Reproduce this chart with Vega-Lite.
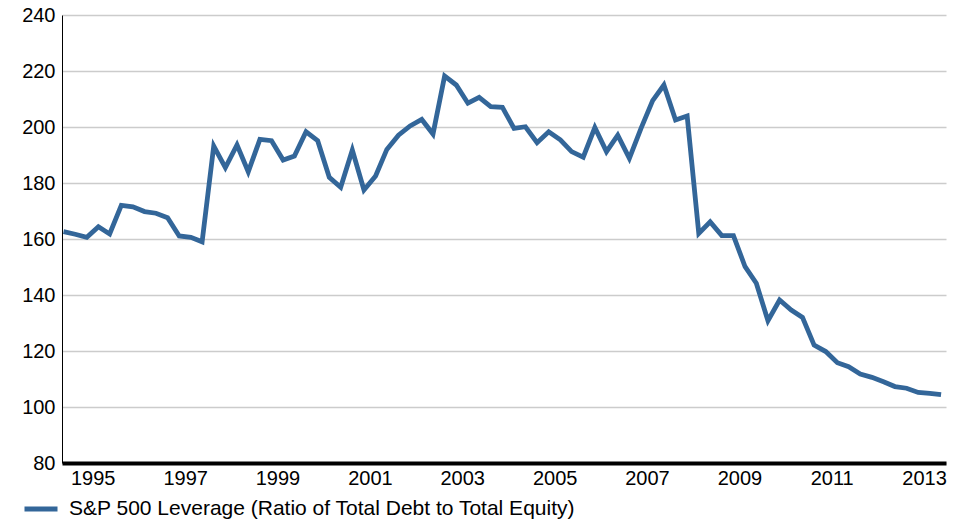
{
  "$schema": "https://vega.github.io/schema/vega-lite/v6.json",
  "width": 884,
  "height": 448,
  "autosize": {"type": "none"},
  "padding": {"left": 62, "top": 15, "right": 22, "bottom": 61},
  "background": "white",
  "config": {"font": "Liberation Sans", "view": {"stroke": null}},
  "data": {"values": [
    {"date": "1994-05-15", "value": 162.6},
    {"date": "1994-08-15", "value": 161.7},
    {"date": "1994-11-15", "value": 160.6},
    {"date": "1995-02-15", "value": 164.4},
    {"date": "1995-05-15", "value": 161.8},
    {"date": "1995-08-15", "value": 172.0},
    {"date": "1995-11-15", "value": 171.5},
    {"date": "1996-02-15", "value": 169.8},
    {"date": "1996-05-15", "value": 169.2},
    {"date": "1996-08-15", "value": 167.6},
    {"date": "1996-11-15", "value": 161.1},
    {"date": "1997-02-15", "value": 160.6},
    {"date": "1997-05-15", "value": 159.0},
    {"date": "1997-08-15", "value": 193.2},
    {"date": "1997-11-15", "value": 185.5},
    {"date": "1998-02-15", "value": 193.6},
    {"date": "1998-05-15", "value": 184.0},
    {"date": "1998-08-15", "value": 195.6},
    {"date": "1998-11-15", "value": 195.1},
    {"date": "1999-02-15", "value": 188.2},
    {"date": "1999-05-15", "value": 189.6},
    {"date": "1999-08-15", "value": 198.3},
    {"date": "1999-11-15", "value": 195.1},
    {"date": "2000-02-15", "value": 182.0},
    {"date": "2000-05-15", "value": 178.5},
    {"date": "2000-08-15", "value": 191.8},
    {"date": "2000-11-15", "value": 177.5},
    {"date": "2001-02-15", "value": 182.5},
    {"date": "2001-05-15", "value": 192.0},
    {"date": "2001-08-15", "value": 197.1},
    {"date": "2001-11-15", "value": 200.4},
    {"date": "2002-02-15", "value": 202.7},
    {"date": "2002-05-15", "value": 197.5},
    {"date": "2002-08-15", "value": 218.2},
    {"date": "2002-11-15", "value": 215.0},
    {"date": "2003-02-15", "value": 208.5},
    {"date": "2003-05-15", "value": 210.6},
    {"date": "2003-08-15", "value": 207.3},
    {"date": "2003-11-15", "value": 207.0},
    {"date": "2004-02-15", "value": 199.5},
    {"date": "2004-05-15", "value": 200.1},
    {"date": "2004-08-15", "value": 194.4},
    {"date": "2004-11-15", "value": 198.3},
    {"date": "2005-02-15", "value": 195.4},
    {"date": "2005-05-15", "value": 191.2},
    {"date": "2005-08-15", "value": 189.2},
    {"date": "2005-11-15", "value": 199.8},
    {"date": "2006-02-15", "value": 191.2},
    {"date": "2006-05-15", "value": 197.1},
    {"date": "2006-08-15", "value": 188.8},
    {"date": "2006-11-15", "value": 199.5},
    {"date": "2007-02-15", "value": 209.4},
    {"date": "2007-05-15", "value": 215.0},
    {"date": "2007-08-15", "value": 202.5},
    {"date": "2007-11-15", "value": 203.9},
    {"date": "2008-02-15", "value": 162.0},
    {"date": "2008-05-15", "value": 166.1},
    {"date": "2008-08-15", "value": 161.2},
    {"date": "2008-11-15", "value": 161.2},
    {"date": "2009-02-15", "value": 150.1},
    {"date": "2009-05-15", "value": 144.2},
    {"date": "2009-08-15", "value": 130.8},
    {"date": "2009-11-15", "value": 138.2},
    {"date": "2010-02-15", "value": 134.6},
    {"date": "2010-05-15", "value": 132.0},
    {"date": "2010-08-15", "value": 122.1},
    {"date": "2010-11-15", "value": 119.8},
    {"date": "2011-02-15", "value": 115.8},
    {"date": "2011-05-15", "value": 114.4},
    {"date": "2011-08-15", "value": 111.8},
    {"date": "2011-11-15", "value": 110.6},
    {"date": "2012-02-15", "value": 109.0},
    {"date": "2012-05-15", "value": 107.3},
    {"date": "2012-08-15", "value": 106.7},
    {"date": "2012-11-15", "value": 105.2},
    {"date": "2013-02-15", "value": 104.9},
    {"date": "2013-05-15", "value": 104.4}
  ]},
  "mark": {"type": "line", "strokeWidth": 4.8},
  "encoding": {
    "x": {
      "field": "date",
      "type": "temporal",
      "scale": {
        "type": "utc",
        "domain": [
          {"year": 1994, "month": 5, "date": 3, "utc": true},
          {"year": 2013, "month": 6, "date": 23, "utc": true}
        ]
      },
      "axis": {
        "title": null,
        "values": [
          {"year": 1995, "utc": true}, {"year": 1997, "utc": true},
          {"year": 1999, "utc": true}, {"year": 2001, "utc": true},
          {"year": 2003, "utc": true}, {"year": 2005, "utc": true},
          {"year": 2007, "utc": true}, {"year": 2009, "utc": true},
          {"year": 2011, "utc": true}, {"year": 2013, "utc": true}
        ],
        "format": "%Y",
        "formatType": "utc",
        "grid": false,
        "ticks": false,
        "domainColor": "#000000",
        "domainWidth": 4,
        "labelFontSize": 20,
        "labelColor": "#000000",
        "labelPadding": 5,
        "labelFlush": false
      }
    },
    "y": {
      "field": "value",
      "type": "quantitative",
      "scale": {"domain": [80, 240], "nice": false, "zero": false},
      "axis": {
        "title": null,
        "values": [80, 100, 120, 140, 160, 180, 200, 220, 240],
        "grid": true,
        "gridColor": "#cccccc",
        "gridWidth": 1.5,
        "ticks": false,
        "domainColor": "#000000",
        "domainWidth": 1,
        "labelFontSize": 20,
        "labelColor": "#000000",
        "labelPadding": 7
      }
    },
    "color": {
      "datum": "S&P 500 Leverage (Ratio of Total Debt to Total Equity)",
      "type": "nominal",
      "scale": {"range": ["#336699"]},
      "legend": {
        "orient": "none",
        "legendX": -40,
        "legendY": 475,
        "title": null,
        "symbolType": "stroke",
        "symbolSize": 1089,
        "symbolStrokeWidth": 5,
        "labelFontSize": 21,
        "labelColor": "#000000",
        "labelOffset": 9,
        "labelLimit": 800
      }
    }
  }
}
